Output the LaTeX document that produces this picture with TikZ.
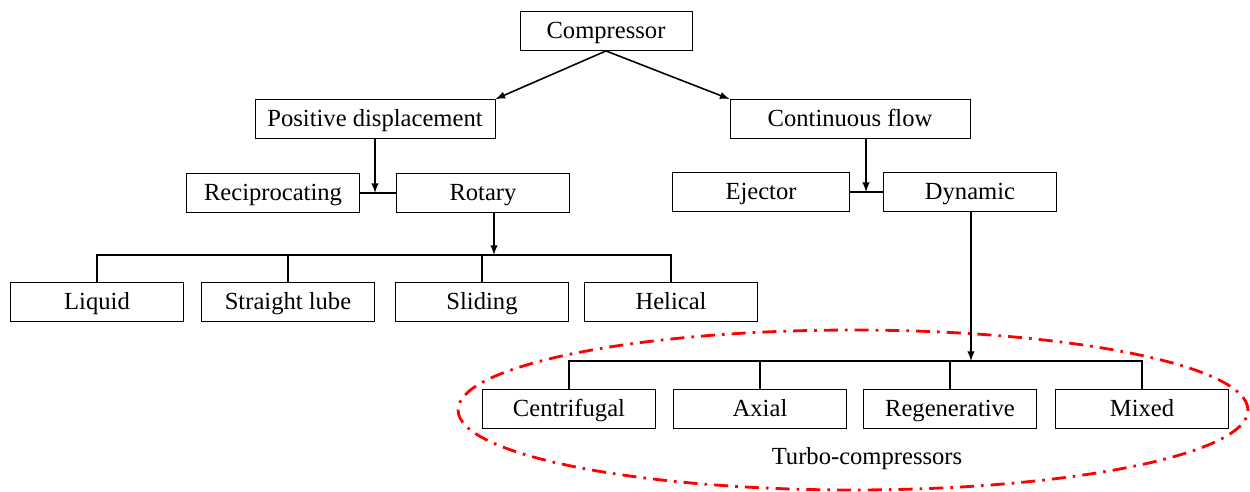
\documentclass[tikz,border=0pt]{standalone}
\usepackage{fontspec}
\setmainfont{Liberation Serif}
\usetikzlibrary{shapes.geometric,arrows,positioning}
\tikzstyle{box} = [draw, rectangle, line width=0.5pt, minimum width=3.46cm, minimum height=0.78cm, inner sep=0pt, text height=10.5pt, text depth=2pt, font=\fontsize{14}{16}\selectfont]
\tikzstyle{widebox} = [box, minimum width=4.8cm]
\tikzstyle{arrow} = [line width=0.9pt,->,>=latex]
\tikzstyle{bus} = [line width=0.9pt]

\begin{document}
\begin{tikzpicture}[x=0.02cm, y=-0.02cm]
    \useasboundingbox (0,0) rectangle (1250,491);

    % top levels
    \node[box, minimum width=3.44cm] (comp) at (606,31) {Compressor};
    \node[widebox] (pd) at (375,119) {Positive displacement};
    \node[widebox] (cf) at (850,119) {Continuous flow};

    \node[box] (rec) at (273,193) {Reciprocating};
    \node[box] (rot) at (483,193) {Rotary};
    \node[box, minimum width=3.54cm] (ej) at (761,192) {Ejector};
    \node[box] (dyn) at (970,192) {Dynamic};

    % rotary types
    \node[box] (liq) at (97,302) {Liquid};
    \node[box] (sl) at (288,302) {Straight lube};
    \node[box] (sld) at (482,302) {Sliding};
    \node[box] (hel) at (671,302) {Helical};

    % dynamic types
    \node[box] (cen) at (569,409) {Centrifugal};
    \node[box] (ax) at (760,409) {Axial};
    \node[box] (reg) at (950,409) {Regenerative};
    \node[box] (mix) at (1142,409) {Mixed};

    % turbo group
    \node[ellipse, draw=red, line width=1.6pt, dash pattern=on 8pt off 4pt on 1.5pt off 4pt,
          minimum width=15.8cm, minimum height=3.2cm] (turbo) at (853,410) {};
    \node[font=\fontsize{14}{16}\selectfont] (turbolbl) at (867,459) {Turbo-compressors};

    % joints
    \coordinate (j1) at (375,193);
    \coordinate (j2) at (866,192);
    \coordinate (b1) at (494,255);
    \coordinate (b2) at (971,361);

    \draw[arrow] (comp.south) -- (pd.north east);
    \draw[arrow] (comp.south) -- (cf.north west);

    \draw[bus] (rec.east) -- (rot.west);
    \draw[arrow] (pd.south) -- (j1);
    \draw[bus] (ej.east) -- (dyn.west);
    \draw[arrow] (j2 |- cf.south) -- (j2);

    % rotary bus
    \draw[arrow] (b1 |- rot.south) -- (b1);
    \draw[bus] (liq.north) |- (b1) -| (hel.north);
    \draw[bus] (sl.north) -- (sl.north |- b1);
    \draw[bus] (sld.north) -- (sld.north |- b1);

    % dynamic bus
    \draw[arrow] (b2 |- dyn.south) -- (b2);
    \draw[bus] (cen.north) |- (b2) -| (mix.north);
    \draw[bus] (ax.north) -- (ax.north |- b2);
    \draw[bus] (reg.north) -- (reg.north |- b2);
\end{tikzpicture}
\end{document}
